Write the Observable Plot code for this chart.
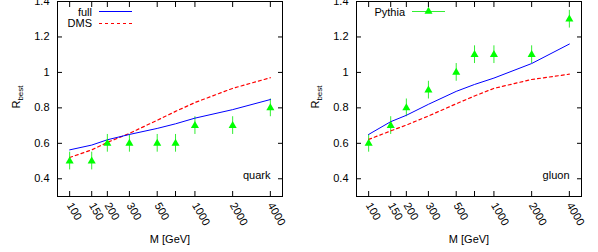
<!DOCTYPE html>
<html><head><meta charset="utf-8">
<script src="https://cdn.jsdelivr.net/npm/d3@7"></script>
<script src="https://cdn.jsdelivr.net/npm/@observablehq/plot@0.6"></script>
<style>
body{margin:0;background:#fff;}
#wrap{display:flex;width:598px;height:252px;}
#wrap svg{font-family:"Liberation Sans",Arial,sans-serif;overflow:visible;}
</style></head><body><div id="wrap"></div>
<script>
const masses = [100, 150, 200, 300, 500, 700, 1000, 2000, 4000];
const xTicks = [100, 150, 200, 300, 500, 700, 1000, 2000, 4000];
const yTicks = [0.4, 0.6, 0.8, 1.0, 1.2, 1.4];

const quarkFull   = [0.563, 0.59, 0.62, 0.65, 0.684, 0.71, 0.742, 0.79, 0.847];
const quarkDMS    = [0.52, 0.563, 0.605, 0.656, 0.73, 0.78, 0.83, 0.91, 0.97];
const quarkPythia = [0.5, 0.5, 0.6, 0.6, 0.6, 0.6, 0.7, 0.7, 0.8];
const quarkErr    = [0.05, 0.05, 0.05, 0.05, 0.05, 0.05, 0.05, 0.05, 0.05];

const gluonFull   = [0.65, 0.722, 0.758, 0.82, 0.893, 0.932, 0.968, 1.05, 1.16];
const gluonDMS    = [0.622, 0.67, 0.703, 0.754, 0.823, 0.867, 0.91, 0.96, 0.99];
const gluonPythia = [0.6, 0.7, 0.8, 0.9, 1.0, 1.1, 1.1, 1.1, 1.3];
const gluonErr    = [0.05, 0.05, 0.05, 0.05, 0.05, 0.05, 0.05, 0.05, 0.05];

const BLUE = "#0000ff", RED = "#ff0000", GREEN = "#00ff00", GREEN_ERR = "#33ee33";

function yLabelMark() {
  const t = d3.create("svg:text")
    .attr("transform", "translate(20,97) rotate(-90)")
    .attr("text-anchor", "middle")
    .attr("font-size", 11)
    .attr("fill", "#000");
  t.append("tspan").text("R");
  t.append("tspan").attr("dy", 3).attr("font-size", 8).text("best");
  return t.node();
}

function legendLeft() {
  const g = d3.create("svg:g").attr("font-size", 11);
  g.append("text").attr("x", 92).attr("y", 12).attr("dy", "0.35em").attr("text-anchor", "end").text("full");
  g.append("line").attr("x1", 99).attr("x2", 132).attr("y1", 11.5).attr("y2", 11.5).attr("stroke", BLUE);
  g.append("text").attr("x", 92).attr("y", 23).attr("dy", "0.35em").attr("text-anchor", "end").text("DMS");
  g.append("line").attr("x1", 99).attr("x2", 132).attr("y1", 23.5).attr("y2", 23.5).attr("stroke", RED).attr("stroke-width", 1.2).attr("stroke-dasharray", "3,3");
  return g.node();
}

function legendRight() {
  const g = d3.create("svg:g").attr("font-size", 11);
  g.append("text").attr("x", 106).attr("y", 12).attr("dy", "0.35em").attr("text-anchor", "end").text("Pythia");
  g.append("line").attr("x1", 113).attr("x2", 146).attr("y1", 11.5).attr("y2", 11.5).attr("stroke", GREEN_ERR);
  g.append("path").attr("d", d3.symbol(d3.symbolTriangle, 28)()).attr("transform", "translate(129.5,11.5)").attr("fill", GREEN);
  return g.node();
}

function panel(full, dms, pythia, err, tag, legend) {
  const rows = masses.map((m, i) => ({m, full: full[i], dms: dms[i], p: pythia[i], lo: pythia[i] - err[i], hi: pythia[i] + err[i]}));
  return Plot.plot({
    width: 299, height: 252,
    marginLeft: 57, marginRight: 17, marginTop: 1, marginBottom: 56,
    style: {fontSize: "11px", fontFamily: "'Liberation Sans', Arial, sans-serif", color: "#000", background: "#fff"},
    x: {type: "log", domain: [80, 5000]},
    y: {domain: [0.3, 1.4]},
    marks: [
      Plot.frame({stroke: "#000"}),
      Plot.axisX({ticks: xTicks, anchor: "bottom", tickSize: -5, fill: "none", label: null}),
      Plot.axisX({ticks: xTicks, anchor: "top", tickSize: -5, fill: "none", label: null}),
      Plot.axisX({ticks: xTicks, anchor: "bottom", tickSize: 0, tickPadding: 7, tickRotate: 60, tickFormat: d => String(d), label: null}),
      Plot.axisY({ticks: yTicks, anchor: "left", tickSize: -5, fill: "none", label: null}),
      Plot.axisY({ticks: yTicks, anchor: "right", tickSize: -5, fill: "none", label: null}),
      Plot.axisY({ticks: yTicks, anchor: "left", tickSize: 0, tickPadding: 8, tickFormat: d => (d === 1 ? "1" : d.toFixed(1)), label: null}),
      Plot.ruleX(rows, {x: "m", y1: "lo", y2: "hi", stroke: GREEN_ERR, strokeWidth: 1}),
      Plot.line(rows, {x: "m", y: "dms", stroke: RED, strokeWidth: 1.2, strokeDasharray: "3,3"}),
      Plot.line(rows, {x: "m", y: "full", stroke: BLUE, strokeWidth: 1}),
      Plot.dot(rows, {x: "m", y: "p", symbol: "triangle", r: 3, fill: GREEN, stroke: null}),
      Plot.text([tag], {frameAnchor: "bottom-right", dx: -12, dy: -18, textAnchor: "end", fill: "#000"}),
      Plot.text(["M [GeV]"], {frameAnchor: "bottom", dy: 46, fill: "#000"}),
      yLabelMark,
      legend
    ]
  });
}

const wrap = document.getElementById("wrap");
wrap.appendChild(panel(quarkFull, quarkDMS, quarkPythia, quarkErr, "quark", legendLeft));
wrap.appendChild(panel(gluonFull, gluonDMS, gluonPythia, gluonErr, "gluon", legendRight));
</script>
</body></html>
